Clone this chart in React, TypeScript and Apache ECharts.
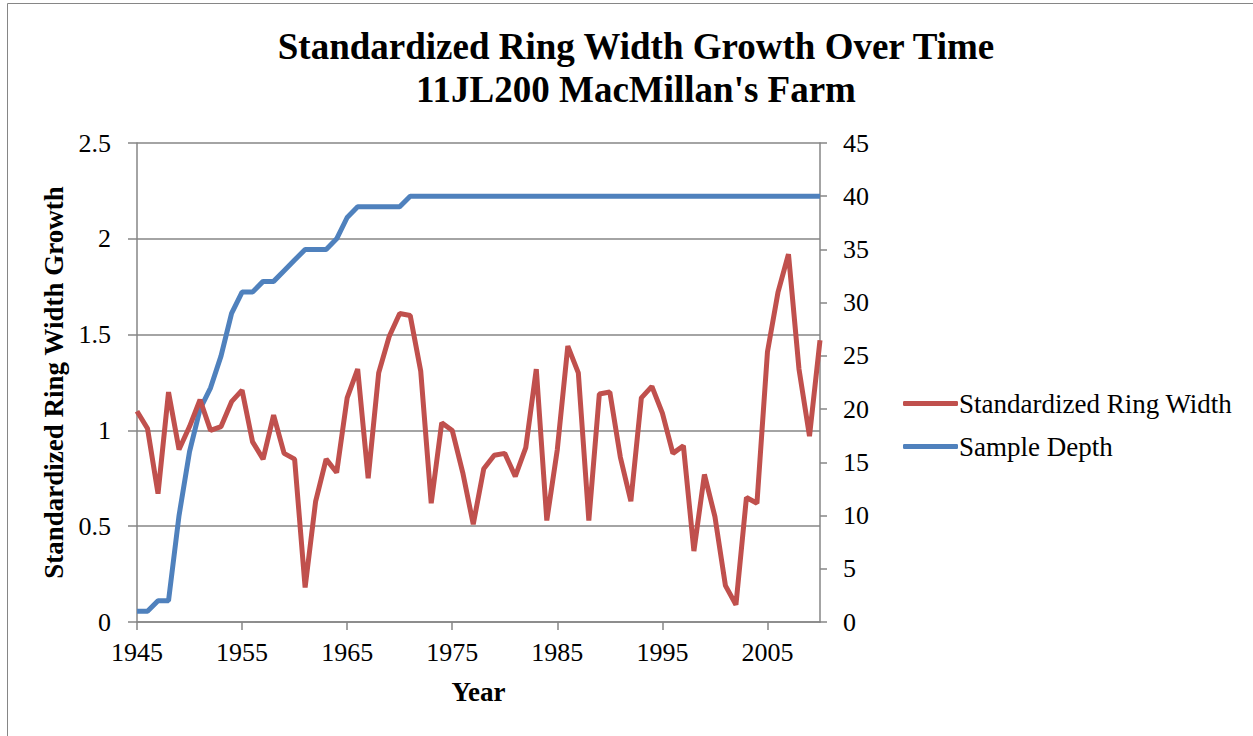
import React, { useEffect, useRef } from "react";
import * as echarts from "echarts";

const years: string[] = [];
for (let y = 1945; y <= 2010; y++) years.push(String(y));

const ringWidth = [
  1.1, 1.01, 0.67, 1.2, 0.9, 1.02, 1.16, 1.0, 1.02, 1.15,
  1.21, 0.94, 0.85, 1.08, 0.88, 0.85, 0.18, 0.63, 0.85, 0.78,
  1.17, 1.32, 0.75, 1.3, 1.49, 1.61, 1.6, 1.31, 0.62, 1.04,
  1.0, 0.78, 0.51, 0.8, 0.87, 0.88, 0.76, 0.91, 1.32, 0.53,
  0.9, 1.44, 1.3, 0.53, 1.19, 1.2, 0.86, 0.63, 1.17, 1.23,
  1.09, 0.88, 0.92, 0.37, 0.77, 0.55, 0.19, 0.09, 0.65, 0.62,
  1.41, 1.72, 1.92, 1.32, 0.97, 1.47,
];

const sampleDepth = [
  1, 1, 2, 2, 10, 16, 20, 22, 25, 29,
  31, 31, 32, 32, 33, 34, 35, 35, 35, 36,
  38, 39, 39, 39, 39, 39, 40, 40, 40, 40,
  40, 40, 40, 40, 40, 40, 40, 40, 40, 40,
  40, 40, 40, 40, 40, 40, 40, 40, 40, 40,
  40, 40, 40, 40, 40, 40, 40, 40, 40, 40,
  40, 40, 40, 40, 40, 40,
];

const FONT = "'Liberation Serif', 'Times New Roman', serif";
const GRAY = "#868686";
const RED = "#C0504D";
const BLUE = "#4F81BD";

export default function App() {
  const ref = useRef<HTMLDivElement>(null);
  useEffect(() => {
    document.body.style.margin = "0";
    const chart = echarts.init(ref.current!, undefined, { renderer: "svg" });
    chart.setOption({
      animation: false,
      backgroundColor: "#fff",
      textStyle: { fontFamily: FONT, color: "#000" },
      title: {
        text: "Standardized Ring Width Growth Over Time\n11JL200 MacMillan's Farm",
        left: 631,
        textAlign: "center",
        top: 20,
        textStyle: {
          fontFamily: FONT,
          fontWeight: "bold",
          fontSize: 37,
          lineHeight: 43,
          color: "#000",
        },
      },
      graphic: [
        {
          type: "rect",
          shape: { x: 7.5, y: 3.5, width: 1300, height: 800 },
          style: { fill: "none", stroke: GRAY, lineWidth: 1 },
          silent: true,
        },
      ],
      legend: {
        orient: "vertical",
        left: 898,
        top: 385,
        itemWidth: 55,
        itemHeight: 5,
        itemGap: 16,
        icon: "roundRect",
        textStyle: { fontFamily: FONT, fontSize: 27, color: "#000", padding: [0, 0, 0, -4] },
        data: ["Standardized Ring Width", "Sample Depth"],
      },
      grid: { left: 137, right: 433, top: 143, bottom: 114, containLabel: false },
      xAxis: {
        type: "category",
        data: years,
        boundaryGap: false,
        name: "Year",
        nameLocation: "middle",
        nameGap: 56,
        nameTextStyle: { fontFamily: FONT, fontWeight: "bold", fontSize: 27, color: "#000" },
        axisLine: { lineStyle: { color: GRAY, width: 1.5 } },
        axisTick: { interval: 9, length: 8, lineStyle: { color: GRAY, width: 1.5 } },
        axisLabel: { interval: 9, fontFamily: FONT, fontSize: 26, color: "#000", margin: 17 },
        splitLine: { show: false },
      },
      yAxis: [
        {
          type: "value",
          min: 0,
          max: 2.5,
          interval: 0.5,
          name: "Standardized Ring Width Growth",
          nameLocation: "middle",
          nameGap: 64,
          nameTextStyle: { fontFamily: FONT, fontWeight: "bold", fontSize: 27, color: "#000" },
          axisLine: { show: true, lineStyle: { color: GRAY, width: 1.5 } },
          axisTick: { show: true, length: 9, lineStyle: { color: GRAY, width: 1.5 } },
          axisLabel: { fontFamily: FONT, fontSize: 26, color: "#000", margin: 26 },
          splitLine: { show: true, lineStyle: { color: GRAY, width: 1.5 } },
        },
        {
          type: "value",
          min: 0,
          max: 45,
          interval: 5,
          position: "right",
          axisLine: { show: true, lineStyle: { color: GRAY, width: 1.5 } },
          axisTick: { show: true, length: 7, lineStyle: { color: GRAY, width: 1.5 } },
          axisLabel: { fontFamily: FONT, fontSize: 26, color: "#000", margin: 23 },
          splitLine: { show: false },
        },
      ],
      series: [
        {
          name: "Standardized Ring Width",
          type: "line",
          yAxisIndex: 0,
          data: ringWidth,
          symbol: "none",
          lineStyle: { color: RED, width: 5 },
          itemStyle: { color: RED },
          z: 3,
        },
        {
          name: "Sample Depth",
          type: "line",
          yAxisIndex: 1,
          data: sampleDepth,
          symbol: "none",
          lineStyle: { color: BLUE, width: 5 },
          itemStyle: { color: BLUE },
          z: 2,
        },
      ],
    });
    return () => chart.dispose();
  }, []);
  return <div ref={ref} style={{ width: 1253, height: 736 }} />;
}
